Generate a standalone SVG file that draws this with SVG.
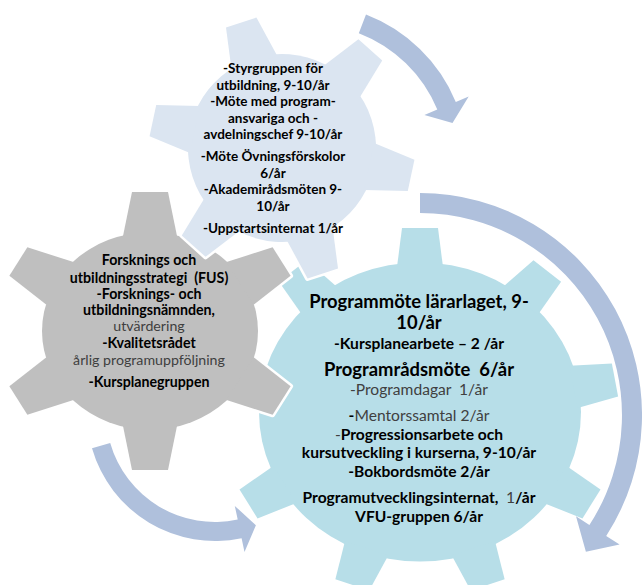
<svg xmlns="http://www.w3.org/2000/svg" xmlns:xlink="http://www.w3.org/1999/xlink" width="642" height="585" viewBox="0 0 642 585">
<style>
.ol { fill:#ffffff; stroke:#ffffff; stroke-width:5; stroke-linejoin:round; }
.f-big { fill:#B7DEE8; stroke:none; }
.f-gray { fill:#BFBFBF; stroke:none; }
.f-top { fill:#DBE5F1; stroke:none; }
.arrow { fill:#AFC0DC; stroke:none; }
text { font-family: Lato, "Liberation Sans", sans-serif; text-anchor: middle; white-space: pre; }
.b { font-weight:700; fill:#000000; }
.n { font-weight:400; fill:#404040; }
.s13 { font-size:13.5px; }
.s125 { font-size:14.2px; }
.s14 { font-size:15.6px; }
.s165 { font-size:18.4px; }
</style>
<defs>
  <g id="big-shape">
    <circle r="161" vector-effect="non-scaling-stroke"/>
    <polygon id="big-tooth" points="-23,-156 -18,-198 18,-198 23,-156" vector-effect="non-scaling-stroke"/>
    <use href="#big-tooth" transform="rotate(40)"/>
    <use href="#big-tooth" transform="rotate(80)"/>
    <use href="#big-tooth" transform="rotate(120)"/>
    <use href="#big-tooth" transform="rotate(160)"/>
    <use href="#big-tooth" transform="rotate(200)"/>
    <use href="#big-tooth" transform="rotate(240)"/>
    <use href="#big-tooth" transform="rotate(280)"/>
    <use href="#big-tooth" transform="rotate(320)"/>
  </g>
  <g id="gray-shape">
    <circle r="108" vector-effect="non-scaling-stroke"/>
    <polygon id="gray-tooth" points="-27,-104 -18,-152 18,-152 27,-104" vector-effect="non-scaling-stroke"/>
    <use href="#gray-tooth" transform="rotate(60)"/>
    <use href="#gray-tooth" transform="rotate(120)"/>
    <use href="#gray-tooth" transform="rotate(180)"/>
    <use href="#gray-tooth" transform="rotate(240)"/>
    <use href="#gray-tooth" transform="rotate(300)"/>
  </g>
  <g id="top-shape">
    <circle r="94"/>
    <polygon id="top-tooth" points="-24,-89 -16,-132 16,-132 24,-89"/>
    <use href="#top-tooth" transform="rotate(60)"/>
    <use href="#top-tooth" transform="rotate(120)"/>
    <use href="#top-tooth" transform="rotate(180)"/>
    <use href="#top-tooth" transform="rotate(240)"/>
    <use href="#top-tooth" transform="rotate(300)"/>
  </g>
</defs>

<g id="gear-big">
  <g transform="translate(420,412) scale(1,0.929)">
    <use href="#big-shape" class="ol"/>
    <use href="#big-shape" class="f-big"/>
  </g>
  <text class="b s165" x="419" y="308">Programmöte lärarlaget, 9-</text>
  <text class="b s165" x="419" y="329">10/år</text>
  <text class="b s14" x="419" y="349">-Kursplanearbete – 2 /år</text>
  <text class="b s165" x="419" y="376">Programrådsmöte  6/år</text>
  <text class="n s14" x="419" y="395">-Programdagar  1/år</text>
  <text class="s14" x="419" y="421"><tspan class="b">-</tspan><tspan class="n">Mentorssamtal 2/år</tspan></text>
  <text class="s14" x="419" y="440"><tspan class="n">-</tspan><tspan class="b">Progressionsarbete och</tspan></text>
  <text class="b s14" x="419" y="458">kursutveckling i kurserna, 9-10/år</text>
  <text class="b s14" x="419" y="477">-Bokbordsmöte 2/år</text>
  <text class="s14" x="419" y="503"><tspan class="b">Programutvecklingsinternat,  </tspan><tspan class="n">1</tspan><tspan class="b">/år</tspan></text>
  <text class="b s14" x="419" y="522">VFU-gruppen 6/år</text>
</g>

<g id="gear-gray">
  <g transform="translate(150,331) scale(1,0.9145)">
    <use href="#gray-shape" class="ol"/>
    <use href="#gray-shape" class="f-gray"/>
  </g>
  <text class="b s125" x="149" y="265">Forsknings och</text>
  <text class="b s125" x="149" y="283">utbildningsstrategi  (FUS)</text>
  <text class="b s125" x="149" y="299">-Forsknings- och</text>
  <text class="b s125" x="149" y="315">utbildningsnämnden,</text>
  <text class="n s125" x="149" y="331">utvärdering</text>
  <text class="b s125" x="149" y="348">-Kvalitetsrådet</text>
  <text class="n s125" x="149" y="365">årlig programuppföljning</text>
  <text class="b s125" x="149" y="387">-Kursplanegruppen</text>
</g>

<g id="gear-top">
  <g transform="translate(282,148) rotate(-18)">
    <use href="#top-shape" class="ol"/>
    <use href="#top-shape" class="f-top"/>
  </g>
  <text class="b s13" x="273" y="73">-Styrgruppen för</text>
  <text class="b s13" x="273" y="89.5">utbildning, 9-10/år</text>
  <text class="b s13" x="273" y="106">-Möte med program-</text>
  <text class="b s13" x="273" y="122.5">ansvariga och -</text>
  <text class="b s13" x="273" y="139">avdelningschef 9-10/år</text>
  <text class="b s13" x="273" y="161">-Möte Övningsförskolor</text>
  <text class="b s13" x="273" y="177.5">6/år</text>
  <text class="b s13" x="273" y="194">-Akademirådsmöten 9-</text>
  <text class="b s13" x="273" y="210.5">10/år</text>
  <text class="b s13" x="273" y="233">-Uppstartsinternat 1/år</text>
</g>

<g id="connectors">
  <path id="arrow-top" class="arrow" d="M 366.0 14.6 A 159 159 0 0 1 455.8 101.9 L 468.7 96.5 L 452.5 122.9 L 424.4 115.0 L 437.3 109.6 A 139 139 0 0 0 358.8 33.2 Z"/>
  <path id="arrow-right" class="arrow" d="M 420 193 A 222 222 0 0 1 606.2 535.9 L 619.6 544.6 L 585.9 551.8 L 576.0 516.3 L 589.4 525.0 A 202 202 0 0 0 420 213 Z"/>
  <path id="arrow-left" class="arrow" d="M 92.0 448.3 A 128 128 0 0 0 241.6 538.2 L 244.5 551.9 L 255.9 525.3 L 234.8 505.9 L 237.7 519.6 A 109 109 0 0 1 110.2 443.0 Z"/>
</g>
</svg>
